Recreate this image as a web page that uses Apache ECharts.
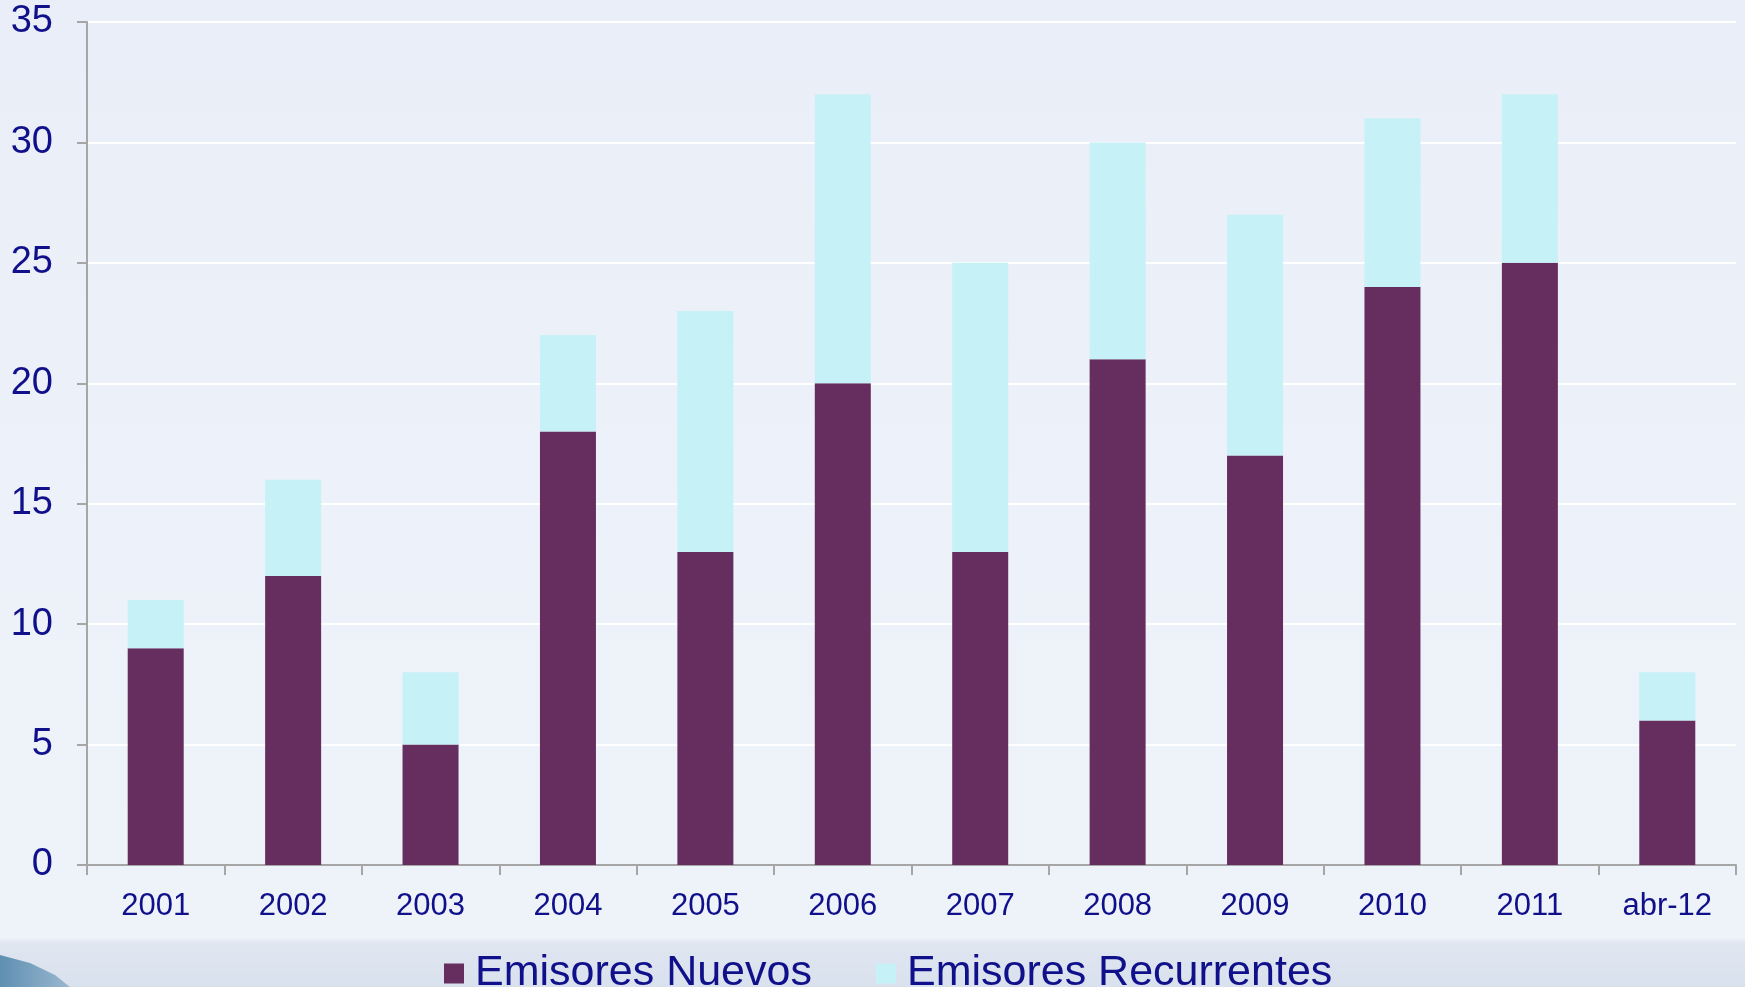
<!DOCTYPE html>
<html>
<head>
<meta charset="utf-8">
<script src="https://cdn.jsdelivr.net/npm/echarts@6/dist/echarts.min.js"></script>
<style>
html,body{margin:0;padding:0;background:#ebeff8;}
#c{width:1745px;height:987px;}
</style>
</head>
<body>
<div id="c"></div>
<script>
const categories = ['2001','2002','2003','2004','2005','2006','2007','2008','2009','2010','2011','abr-12'];
const emisoresNuevos = [9,12,5,18,13,20,13,21,17,24,25,6];
const emisoresRecurrentes = [2,4,3,4,10,12,12,9,10,7,7,2];
const yTicks = {min:0, max:35, interval:5};

const textColor = '#10108a';
const font = 'Liberation Sans, Arial, sans-serif';
const chart = echarts.init(document.getElementById('c'));
chart.setOption({
  backgroundColor: {
    type:'linear', x:0, y:0, x2:0, y2:1,
    colorStops:[{offset:0,color:'#e9eef8'},{offset:0.5,color:'#edf1f9'},{offset:0.95,color:'#eef2f9'},{offset:0.956,color:'#dfe6f0'},{offset:1,color:'#d9e1ee'}]
  },
  graphic: [
    {type:'polygon', silent:true, shape:{points:[[0,955],[30,963],[55,975],[70,987],[0,987]]},
     style:{fill:{type:'linear',x:0,y:0,x2:1,y2:0,colorStops:[{offset:0,color:'#5f8fb2'},{offset:1,color:'#9ab8cf'}]}}}
  ],
  animation:false,
  grid:{left:87, right:9, top:22, bottom:122, containLabel:false},
  legend:{
    left:439, top:947,
    itemWidth:20, itemHeight:20, itemGap:64,
    icon:'rect',
    textStyle:{color:textColor, fontSize:43, fontFamily:font, padding:[0,0,0,6]},
    data:['Emisores Nuevos','Emisores Recurrentes']
  },
  xAxis:{
    type:'category', data:categories,
    axisLine:{lineStyle:{color:'#a6a6a6', width:2}},
    axisTick:{show:true, length:10, lineStyle:{color:'#a6a6a6', width:2}},
    axisLabel:{color:textColor, fontSize:31, margin:26, fontFamily:font},
    splitLine:{show:false}
  },
  yAxis:{
    type:'value', min:yTicks.min, max:yTicks.max, interval:yTicks.interval,
    axisLine:{show:true, lineStyle:{color:'#a6a6a6', width:2}},
    axisTick:{show:true, length:10, lineStyle:{color:'#a6a6a6', width:2}},
    axisLabel:{color:textColor, fontSize:38, margin:34, fontFamily:font},
    splitLine:{show:true, lineStyle:{color:'#ffffff', width:2}}
  },
  series:[
    {name:'Emisores Nuevos', type:'bar', stack:'t', data:emisoresNuevos, barWidth:56,
     itemStyle:{color:'#652e5f'}},
    {name:'Emisores Recurrentes', type:'bar', stack:'t', data:emisoresRecurrentes, barWidth:56,
     itemStyle:{color:'#c6f1f7'}}
  ]
});
</script>
</body>
</html>
